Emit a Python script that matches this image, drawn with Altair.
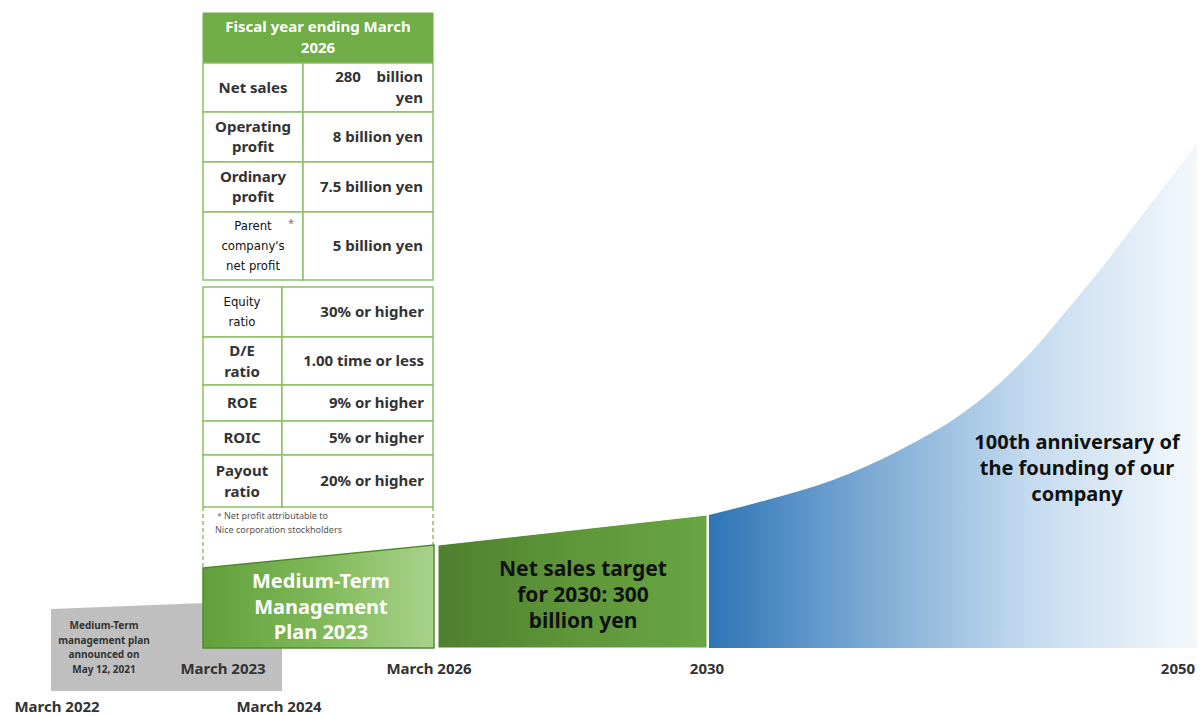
import altair as alt
import pandas as pd

W, H = 1200, 716
FONT = "Noto Sans"
NARROW = "DejaVu Sans Condensed, Liberation Sans, sans-serif"
TXT = "#333333"

# ---- timeline shapes (pixel frame of the infographic) ----
gray_x = [51, 282]
gray_top = [609, 600]
gray_bottom = [691, 691]

plan_x = [203, 434]
plan_top = [568, 545]
target_x = [438, 707]
target_top = [545, 515]
base_y = 648

growth_x = [709, 767, 833, 900, 967, 1000, 1033, 1067, 1100, 1133, 1167, 1197]
growth_top = [515, 500, 480, 450, 410, 383, 350, 310, 270, 227, 183, 143]

# ---- milestone labels ----
milestones = ["March 2022", "March 2024", "March 2023", "March 2026", "2030", "2050"]
milestone_x = [57, 279, 223, 429, 707, 1178]
milestone_y = [707, 707, 669, 669, 669, 669]

# ---- table data ----
header_lines = ["Fiscal year ending March", "2026"]
t1_labels = [["Net sales"], ["Operating", "profit"], ["Ordinary", "profit"], ["Parent", "company's", "net profit"]]
t1_values = [["280\u00a0\u00a0\u00a0\u00a0billion", "yen"], ["8 billion yen"], ["7.5 billion yen"], ["5 billion yen"]]
t1_rows = [63, 112, 162, 212, 280]
t2_labels = [["Equity", "ratio"], ["D/E", "ratio"], ["ROE"], ["ROIC"], ["Payout", "ratio"]]
t2_values = [["30% or higher"], ["1.00 time or less"], ["9% or higher"], ["5% or higher"], ["20% or higher"]]
t2_rows = [287, 337, 385, 421, 455, 507]
note_lines = ["＊Net profit attributable to", "Nice corporation stockholders"]
gray_note = ["Medium-Term", "management plan", "announced on", "May 12, 2021"]
plan_lines = ["Medium-Term", "Management", "Plan 2023"]
target_lines = ["Net sales target", "for 2030: 300", "billion yen"]
anniv_lines = ["100th anniversary of", "the founding of our", "company"]

xs = alt.Scale(domain=[0, W], range=[0, W], nice=False, zero=False)
ys = alt.Scale(domain=[0, H], range=[0, H], nice=False, zero=False)
X = lambda f="x": alt.X(f"{f}:Q", scale=xs, axis=None)
Y = lambda f="y": alt.Y(f"{f}:Q", scale=ys, axis=None)


def grad(colors, offsets):
    return alt.LinearGradient(
        gradient="linear",
        stops=[alt.GradientStop(color=c, offset=o) for c, o in zip(colors, offsets)],
        x1=0, x2=1, y1=0, y2=0,
    )


def area(xv, top, bottom, **kw):
    df = pd.DataFrame({"x": xv, "y": top, "y2": bottom})
    return alt.Chart(df).mark_area(**kw).encode(x=X(), y=Y(), y2=alt.Y2("y2:Q"))


def texts(rows, size, color, align="center", weight="bold", font=FONT):
    df = pd.DataFrame(rows, columns=["text", "x", "y"])
    return alt.Chart(df).mark_text(
        size=size, color=color, fontWeight=weight, align=align, baseline="middle", font=font
    ).encode(x=X(), y=Y(), text="text:N")


def rects(rows, fill, stroke, sw):
    df = pd.DataFrame(rows, columns=["x", "x2", "y", "y2"])
    return alt.Chart(df).mark_rect(fill=fill, stroke=stroke, strokeWidth=sw).encode(
        x=X(), x2=alt.X2("x2:Q"), y=Y(), y2=alt.Y2("y2:Q")
    )


layers = []
# gray box
layers.append(area(gray_x, gray_top, gray_bottom, color="#bfbfbf"))
# plan trapezoid
layers.append(area(plan_x, plan_top, [base_y] * 2,
                   fill=grad(["#62a03c", "#7fb857", "#a9d28c"], [0, 0.5, 1]),
                   stroke="#4f8a2e", strokeWidth=1.5))
# target trapezoid
layers.append(area(target_x, target_top, [base_y] * 2,
                   fill=grad(["#4f7f30", "#5e9639", "#69a543"], [0, 0.5, 1]),
                   stroke="#ffffff", strokeWidth=1))
# growth curve
layers.append(area(growth_x, growth_top, [base_y] * len(growth_x),
                   interpolate="monotone",
                   fill=grad(["#2e75b6", "#8ab3d9", "#c4dbef", "#f4f8fc"], [0, 0.39, 0.66, 1])))

# table header
layers.append(rects([(203, 433, 13, 63)], "#70ad47", "#70ad47", 1))
# table 1 cells
cells1 = []
for i in range(len(t1_labels)):
    cells1.append((203, 303, t1_rows[i], t1_rows[i + 1]))
    cells1.append((303, 433, t1_rows[i], t1_rows[i + 1]))
layers.append(rects(cells1, "#ffffff", "#8cc068", 1.5))
cells2 = []
for i in range(len(t2_labels)):
    cells2.append((203, 282, t2_rows[i], t2_rows[i + 1]))
    cells2.append((282, 433, t2_rows[i], t2_rows[i + 1]))
layers.append(rects(cells2, "#ffffff", "#8cc068", 1.5))

# dashed connectors
dash = pd.DataFrame({"x": [203, 433], "y": [507, 507], "y2": [568, 545]})
layers.append(alt.Chart(dash).mark_rule(color="#70ad47", strokeDash=[4, 3], strokeWidth=1.2).encode(
    x=X(), y=Y(), y2=alt.Y2("y2:Q")))

# header text
layers.append(texts([(header_lines[0], 318, 27), (header_lines[1], 318, 48)], 15, "#ffffff"))

# table texts
lt, rt, nt = [], [], []
for i, (lab, val) in enumerate(zip(t1_labels, t1_values)):
    top, bot = t1_rows[i], t1_rows[i + 1]
    mid = (top + bot) / 2
    if i == 3:
        for k, s in enumerate(lab):
            nt.append((s, 253, mid - 20 + 20 * k))
    else:
        for k, s in enumerate(lab):
            lt.append((s, 253, mid - 10 * (len(lab) - 1) + 20 * k))
    for k, s in enumerate(val):
        rt.append((s, 423, mid - 10.5 * (len(val) - 1) + 21 * k))
for i, (lab, val) in enumerate(zip(t2_labels, t2_values)):
    top, bot = t2_rows[i], t2_rows[i + 1]
    mid = (top + bot) / 2
    if i == 0:
        for k, s in enumerate(lab):
            nt.append((s, 242, mid - 10 + 20 * k))
    else:
        for k, s in enumerate(lab):
            lt.append((s, 242, mid - 10.5 * (len(lab) - 1) + 21 * k))
    for k, s in enumerate(val):
        rt.append((s, 424, mid))
layers.append(texts(lt, 15, TXT))
layers.append(texts(rt, 15, TXT, align="right"))
layers.append(texts(nt, 13, "#111111", weight="normal", font=NARROW))
layers.append(texts([("*", 291, 224)], 11, "#777777", weight="normal"))
layers.append(texts([(note_lines[0], 215, 516), (note_lines[1], 215, 530)], 9, "#555555", align="left", weight="normal"))

# shape texts
layers.append(texts([(s, 104, 626 + 14.5 * k) for k, s in enumerate(gray_note)], 10, TXT))
layers.append(texts([(s, 321, 582 + 25.5 * k) for k, s in enumerate(plan_lines)], 20, "#ffffff"))
layers.append(texts([(s, 583, 570 + 26 * k) for k, s in enumerate(target_lines)], 21, "#111111"))
layers.append(texts([(s, 1077, 443 + 26 * k) for k, s in enumerate(anniv_lines)], 20, "#111111"))

# milestones
layers.append(texts(list(zip(milestones, milestone_x, milestone_y)), 15, TXT))

chart = alt.layer(*layers).properties(
    width=W, height=H, autosize=alt.AutoSizeParams(type="none"), padding=0,
    background="#ffffff",
).configure_view(stroke=None)

chart.save("out.html", embed_options={"renderer": "svg", "actions": False})
